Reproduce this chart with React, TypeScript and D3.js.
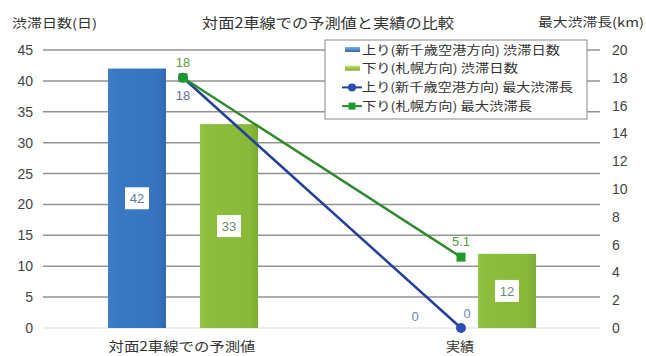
import React from "react";
import * as d3 from "d3";

const categories = ["対面2車線での予測値", "実績"];
const upDays = [42, 0];
const downDays = [33, 12];
const upMaxLen = [18, 0];
const downMaxLen = [18, 5.1];
const leftTicks = [0, 5, 10, 15, 20, 25, 30, 35, 40, 45];
const rightTicks = [0, 2, 4, 6, 8, 10, 12, 14, 16, 18, 20];
const seriesNames = [
  "上り(新千歳空港方向) 渋滞日数",
  "下り(札幌方向) 渋滞日数",
  "上り(新千歳空港方向) 最大渋滞長",
  "下り(札幌方向) 最大渋滞長",
];

const W = 646;
const H = 356;
const JP = "'Noto Sans CJK JP', 'Noto Sans', sans-serif";
const NUM = "'Liberation Sans', Arial, sans-serif";

export default function App() {
  const x = d3.scaleBand<string>().domain(categories).range([44, 600]).padding(0);
  const inner = d3
    .scaleBand<string>()
    .domain(["up", "down"])
    .range([0, x.bandwidth()])
    .paddingInner(0.37)
    .paddingOuter(0.696);
  const yL = d3.scaleLinear().domain([0, 45]).range([328, 50]);
  const yR = d3.scaleLinear().domain([0, 20]).range([328, 50]);
  const cx = (c: string) => (x(c) as number) + x.bandwidth() / 2;

  const lineGen = d3
    .line<[number, number]>()
    .x((d) => d[0])
    .y((d) => d[1]);

  const upPts: [number, number][] = categories.map((c, i) => [cx(c), yR(upMaxLen[i])]);
  const downPts: [number, number][] = categories.map((c, i) => [cx(c), yR(downMaxLen[i])]);

  const BLUE_LINE = "#23409a";
  const GREEN_LINE = "#2f8a2f";

  const bars: { key: string; vals: number[]; fill: string; label: string }[] = [
    { key: "up", vals: upDays, fill: "url(#gBlue)", label: "#5d7ea6" },
    { key: "down", vals: downDays, fill: "url(#gGreen)", label: "#6b8c6b" },
  ];

  const legendLens = [198, 156, 211, 170];

  return (
    <svg width={W} height={H} style={{ position: "absolute", left: 0, top: 0, background: "#fff" }}>
      <defs>
        <linearGradient id="gBlue" x1="0" x2="1" y1="0" y2="0">
          <stop offset="0" stopColor="#3f7dc9" />
          <stop offset="0.15" stopColor="#3a78c4" />
          <stop offset="0.85" stopColor="#3774c0" />
          <stop offset="1" stopColor="#2f68b0" />
        </linearGradient>
        <linearGradient id="gGreen" x1="0" x2="1" y1="0" y2="0">
          <stop offset="0" stopColor="#94c444" />
          <stop offset="0.15" stopColor="#8cbd3c" />
          <stop offset="0.85" stopColor="#88b938" />
          <stop offset="1" stopColor="#7dab30" />
        </linearGradient>
        <linearGradient id="lgBlue" x1="0" x2="0" y1="0" y2="1">
          <stop offset="0" stopColor="#7aaee8" />
          <stop offset="1" stopColor="#2f68b0" />
        </linearGradient>
        <linearGradient id="lgGreen" x1="0" x2="0" y1="0" y2="1">
          <stop offset="0" stopColor="#c4e07a" />
          <stop offset="1" stopColor="#7dab30" />
        </linearGradient>
      </defs>

      {/* titles */}
      <text x={202} y={28} fontFamily={JP} fontSize={14} fill="#333" textLength={252} lengthAdjust="spacingAndGlyphs">
        対面2車線での予測値と実績の比較
      </text>
      <text x={12} y={28} fontFamily={JP} fontSize={12.5} fill="#333" textLength={85} lengthAdjust="spacingAndGlyphs">
        渋滞日数(日)
      </text>
      <text x={538} y={27} fontFamily={JP} fontSize={12.5} fill="#333" textLength={106} lengthAdjust="spacingAndGlyphs">
        最大渋滞長(km)
      </text>

      {/* gridlines */}
      {leftTicks.map((t) => (
        <line
          key={"g" + t}
          x1={43}
          x2={600}
          y1={yL(t)}
          y2={yL(t)}
          stroke={t === 0 ? "#dcdcdc" : "#939393"}
          strokeWidth={t === 0 ? 1 : 1.5}
        />
      ))}
      {leftTicks.map((t) => (
        <text key={"l" + t} x={33} y={yL(t) + 5} textAnchor="end" fontFamily={NUM} fontSize={14} fill="#444">
          {t}
        </text>
      ))}
      {rightTicks.map((t) => (
        <text key={"r" + t} x={612} y={yR(t) + 5} textAnchor="start" fontFamily={NUM} fontSize={14} fill="#444">
          {t}
        </text>
      ))}

      {/* bars */}
      {bars.map((s) =>
        categories.map((c, i) => {
          const bx = (x(c) as number) + (inner(s.key) as number);
          const bw = inner.bandwidth();
          const v = s.vals[i];
          const top = yL(v);
          const h = yL(0) - top;
          return (
            <g key={s.key + c}>
              {v > 0 && <rect x={bx} y={top} width={bw} height={h} fill={s.fill} />}
              {v > 0 ? (
                <g>
                  <rect x={bx + bw / 2 - 12} y={yL(v / 2) - 11} width={24} height={22} fill="#fff" />
                  <text x={bx + bw / 2} y={yL(v / 2) + 5} textAnchor="middle" fontFamily={NUM} fontSize={13} fill={s.label}>
                    {v}
                  </text>
                </g>
              ) : (
                <text x={bx + bw / 2} y={yL(0) - 7} textAnchor="middle" fontFamily={NUM} fontSize={13} fill="#7088b8">
                  {v}
                </text>
              )}
            </g>
          );
        })
      )}

      {/* lines */}
      <path d={lineGen(upPts) || ""} fill="none" stroke={BLUE_LINE} strokeWidth={2.5} />
      <path d={lineGen(downPts) || ""} fill="none" stroke={GREEN_LINE} strokeWidth={2.5} />
      {upPts.map((p, i) => (
        <circle key={"uc" + i} cx={p[0]} cy={p[1]} r={5} fill="#2a4fb0" />
      ))}
      {downPts.map((p, i) => (
        <rect key={"dr" + i} x={p[0] - 4.5} y={p[1] - 4.5} width={9} height={9} fill="#1f9a2a" />
      ))}
      {/* line labels */}
      {downPts.map((p, i) => (
        <text key={"dl" + i} x={p[0]} y={p[1] - 11} textAnchor="middle" fontFamily={NUM} fontSize={13} fill="#5c9a3c">
          {downMaxLen[i]}
        </text>
      ))}
      {upPts.map((p, i) =>
        i === 0 ? (
          <text key={"ul" + i} x={p[0]} y={p[1] + 22} textAnchor="middle" fontFamily={NUM} fontSize={13} fill="#6a6aa8">
            {upMaxLen[i]}
          </text>
        ) : (
          <text key={"ul" + i} x={p[0] + 6} y={p[1] - 10} textAnchor="middle" fontFamily={NUM} fontSize={13} fill="#7088b8">
            {upMaxLen[i]}
          </text>
        )
      )}

      {/* category labels */}
      {categories.map((c, i) => (
        <text
          key={"c" + c}
          x={cx(c) - 1}
          y={351}
          textAnchor="middle"
          fontFamily={JP}
          fontSize={13}
          fill="#333"
          textLength={i === 0 ? 147 : 28}
          lengthAdjust="spacingAndGlyphs"
        >
          {c}
        </text>
      ))}

      {/* legend */}
      <g>
        <rect x={325} y={40} width={262} height={79} fill="#fff" stroke="#8a8a8a" strokeWidth={1} />
        {seriesNames.map((n, i) => {
          const ly = 50 + i * 18.7;
          return (
            <g key={"lg" + i}>
              {i === 0 && <rect x={345} y={ly - 3} width={15} height={5} fill="url(#lgBlue)" />}
              {i === 1 && <rect x={345} y={ly - 3} width={15} height={5} fill="url(#lgGreen)" />}
              {i === 2 && (
                <g>
                  <line x1={342} x2={362} y1={ly} y2={ly} stroke={BLUE_LINE} strokeWidth={2} />
                  <circle cx={352} cy={ly} r={4} fill="#2a4fb0" />
                </g>
              )}
              {i === 3 && (
                <g>
                  <line x1={342} x2={362} y1={ly} y2={ly} stroke={GREEN_LINE} strokeWidth={2} />
                  <rect x={348.5} y={ly - 3.5} width={7} height={7} fill="#1f9a2a" />
                </g>
              )}
              <text
                x={362}
                y={ly + 4.5}
                fontFamily={JP}
                fontSize={12}
                fill="#333"
                textLength={legendLens[i]}
                lengthAdjust="spacingAndGlyphs"
              >
                {n}
              </text>
            </g>
          );
        })}
      </g>
    </svg>
  );
}
